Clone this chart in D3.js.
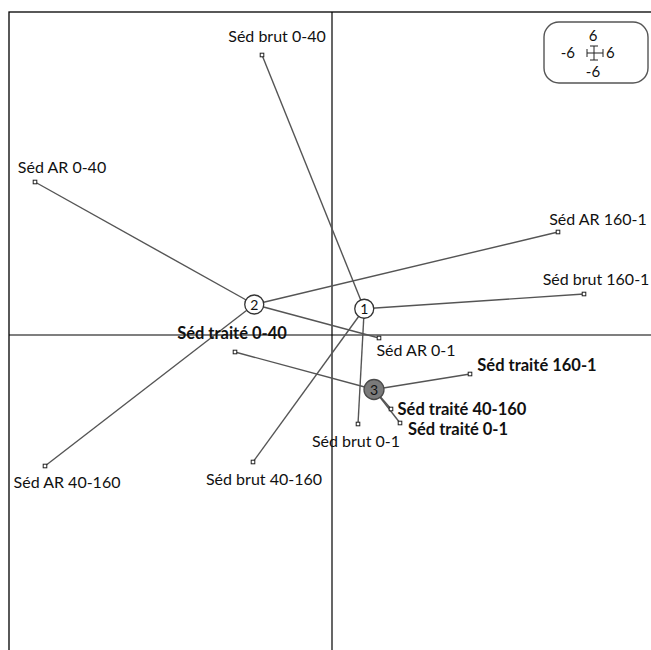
<!DOCTYPE html>
<html>
<head>
<meta charset="utf-8">
<script src="https://cdn.jsdelivr.net/npm/d3@7"></script>
<style>
  body { margin: 0; background: #fff; }
  text { font-family: Lato, "Open Sans", sans-serif; fill: #111; }
</style>
</head>
<body>
<div id="chart"></div>
<script>
// factorial map: samples joined to the centre of their class

const labels = ["Séd brut 0-40", "Séd brut 160-1", "Séd brut 0-1", "Séd brut 40-160",
                "Séd AR 0-40", "Séd AR 160-1", "Séd AR 0-1", "Séd AR 40-160",
                "Séd traité 0-40", "Séd traité 160-1", "Séd traité 40-160", "Séd traité 0-1"];
const classes = [1, 1, 1, 1, 2, 2, 2, 2, 3, 3, 3, 3];
const xs = [-7.0, 25.2, 2.6, -7.9, -29.7, 22.6, 4.7, -28.7, -9.7, 13.8, 5.9, 6.8];
const ys = [28.0, 4.1, -8.9, -12.7, 15.3, 10.3, -0.3, -13.1, -1.7, -3.9, -7.4, -8.8];
// where each label sits (centre, baseline), same units as the points
const labelXs = [-5.5, 26.4, 2.4, -6.8, -27.0, 26.6, 8.4, -26.5, -10.0, 20.5, 13.0, 12.6];
const labelYs = [29.3, 5.0, -11.2, -15.0, 16.2, 11.0, -2.1, -15.3, -0.4, -3.6, -8.0, -10.0];
const legendTicks = ["6", "-6", "6", "-6"];

const width = 651, height = 650;

const x = d3.scaleLinear().domain([-32.3, 32.3]).range([9, 655]);
const y = d3.scaleLinear().domain([-32.3, 32.3]).range([658, 12]);

const svg = d3.select("#chart").append("svg")
    .attr("width", width)
    .attr("height", height);

const points = labels.map((d, i) => ({
  label: d, cls: classes[i], x: xs[i], y: ys[i], lx: labelXs[i], ly: labelYs[i]
}));

const centres = d3.groups(points, d => d.cls).map(([cls, pts]) => ({
  cls, x: d3.mean(pts, d => d.x), y: d3.mean(pts, d => d.y)
}));
const centreOf = new Map(centres.map(c => [c.cls, c]));

// frame and the two axes through zero
svg.append("rect")
    .attr("x", x(-32.3)).attr("y", y(32.3))
    .attr("width", x(32.3) - x(-32.3)).attr("height", y(-32.3) - y(32.3))
    .attr("fill", "none").attr("stroke", "#000").attr("stroke-width", 1.3);

svg.append("line")
    .attr("x1", x(0)).attr("x2", x(0)).attr("y1", y(32.3)).attr("y2", y(-32.3))
    .attr("stroke", "#000").attr("stroke-width", 1.2);
svg.append("line")
    .attr("x1", x(-32.3)).attr("x2", x(32.3)).attr("y1", y(0)).attr("y2", y(0))
    .attr("stroke", "#000").attr("stroke-width", 1.2);

// spokes
svg.selectAll(".spoke")
  .data(points)
  .enter().append("line")
    .attr("class", "spoke")
    .attr("x1", d => x(centreOf.get(d.cls).x))
    .attr("y1", d => y(centreOf.get(d.cls).y))
    .attr("x2", d => x(d.x))
    .attr("y2", d => y(d.y))
    .attr("stroke", "#555")
    .attr("stroke-width", 1.4);

// point markers
svg.selectAll(".pt")
  .data(points)
  .enter().append("rect")
    .attr("class", "pt")
    .attr("x", d => x(d.x) - 1.8)
    .attr("y", d => y(d.y) - 1.8)
    .attr("width", 3.6).attr("height", 3.6)
    .attr("fill", "#fff").attr("stroke", "#222").attr("stroke-width", 1);

// labels
svg.selectAll(".lab")
  .data(points)
  .enter().append("text")
    .attr("class", "lab")
    .attr("x", d => x(d.lx))
    .attr("y", d => y(d.ly))
    .attr("text-anchor", "middle")
    .style("font-size", d => d.cls === 3 ? "16.5px" : "16px")
    .style("font-weight", d => d.cls === 3 ? "bold" : "normal")
    .text(d => d.label);

// class centres
const cg = svg.selectAll(".centre")
  .data(centres)
  .enter().append("g")
    .attr("class", "centre")
    .attr("transform", d => `translate(${x(d.x)},${y(d.y)})`);

cg.append("circle")
    .attr("r", d => d.cls === 3 ? 10 : 9.5)
    .attr("fill", d => d.cls === 3 ? "#7a7a7a" : "#fff")
    .attr("stroke", d => d.cls === 3 ? "#4a4a4a" : "#333")
    .attr("stroke-width", 1.3);

cg.append("text")
    .attr("text-anchor", "middle")
    .attr("dy", "0.36em")
    .style("font-size", "14px")
    .text(d => d.cls);

// scale legend, top right
const lg = svg.append("g").attr("transform", "translate(595,53)");
lg.append("rect")
    .attr("x", -51).attr("y", -31)
    .attr("width", 104).attr("height", 61)
    .attr("rx", 15)
    .attr("fill", "#fff").attr("stroke", "#555").attr("stroke-width", 1.4);
lg.append("line").attr("x1", -8).attr("x2", 8).attr("stroke", "#222");
lg.append("line").attr("y1", -7).attr("y2", 7).attr("x1", -1).attr("x2", -1).attr("stroke", "#222");
[[-8, 0, 4, 0], [8, 0, 4, 0], [-1, -7, 0, 4], [-1, 7, 0, 4]].forEach(([tx, ty, w, h]) => {
  lg.append("line")
    .attr("x1", tx - h).attr("x2", tx + h)
    .attr("y1", ty - w).attr("y2", ty + w)
    .attr("stroke", "#222");
});
const tickPos = [[-2, -17, "middle"], [-20, 0, "end"], [11, 0, "start"], [-2, 19, "middle"]];
lg.selectAll(".lt")
  .data(legendTicks)
  .enter().append("text")
    .attr("x", (d, i) => tickPos[i][0])
    .attr("y", (d, i) => tickPos[i][1])
    .attr("dy", "0.35em")
    .attr("text-anchor", (d, i) => tickPos[i][2])
    .style("font-size", "15px")
    .text(d => d);
</script>
</body>
</html>
